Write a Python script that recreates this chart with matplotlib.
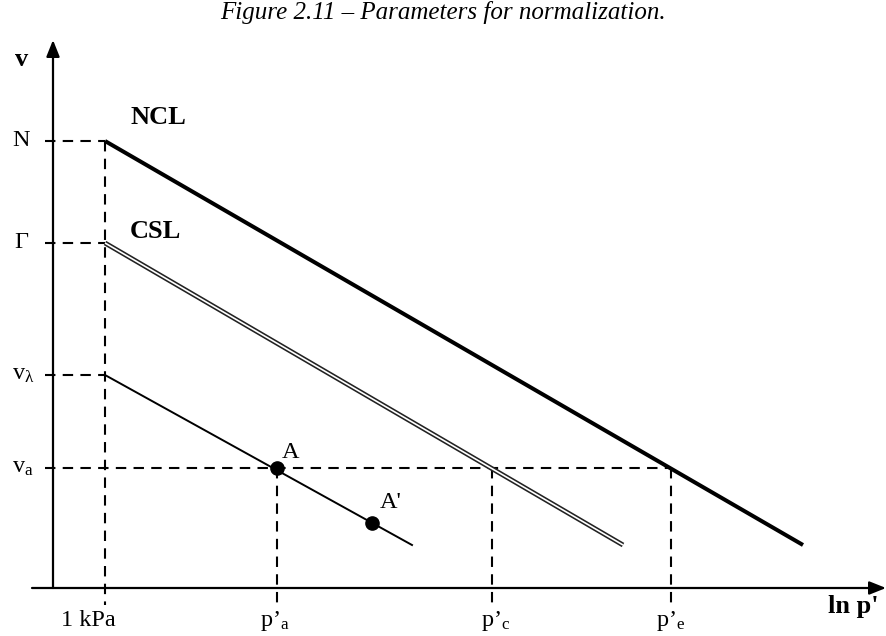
import matplotlib
matplotlib.use("Agg")
import matplotlib.pyplot as plt
from matplotlib.patches import FancyArrowPatch

# ---- schematic data (ln p' and v in arbitrary units) ----
lnp_ref = 0.0                      # 1 kPa
v_levels = {"N": 4.47, "Gamma": 3.45, "v_lambda": 2.13, "v_a": 1.20}
lnp_points = {"p_a": 1.72, "p_c": 3.87, "p_e": 5.66}
ncl_lnp = [0.0, 6.98]
ncl_v = [4.47, 0.43]
csl_lnp = [0.0, 5.18]
csl_v = [3.45, 0.43]
url_lnp = [0.0, 3.07]
url_v = [2.13, 0.43]
pt_A = (1.72, 1.20)
pt_Ap = (2.67, 0.65)
x_tick_labels = ["1 kPa", "p’$_{\\mathrm{a}}$", "p’$_{\\mathrm{c}}$", "p’$_{\\mathrm{e}}$"]

plt.rcParams['font.family'] = ['Liberation Serif', 'DejaVu Serif']
plt.rcParams['mathtext.fontset'] = 'custom'
plt.rcParams['mathtext.rm'] = 'Liberation Serif'
plt.rcParams['mathtext.it'] = 'Liberation Serif:italic'

fig = plt.figure(figsize=(8.86, 6.36), dpi=100)
ax = fig.add_axes([0, 0, 1, 1])
ax.set_xlim(-1.05, 7.81)
ax.set_ylim(-0.48, 5.88)
ax.axis('off')

x_axis_start = -0.73
y_axis_x = -0.52
# axes with arrows
ax.add_patch(FancyArrowPatch((x_axis_start, 0), (7.81, 0), arrowstyle='-|>,head_length=10,head_width=4',
                             mutation_scale=1, lw=1.6, color='black', shrinkA=0, shrinkB=0))
ax.add_patch(FancyArrowPatch((y_axis_x, 0), (y_axis_x, 5.48), arrowstyle='-|>,head_length=10,head_width=4',
                             mutation_scale=1, lw=1.6, color='black', shrinkA=0, shrinkB=0))

dash = dict(color='black', lw=1.5, dashes=(5, 3.5))
left_dash = -0.60
bottom_dash = -0.17
# horizontal dashed guides
for key in ["N", "Gamma", "v_lambda"]:
    ax.plot([left_dash, lnp_ref], [v_levels[key]] * 2, **dash)
ax.plot([left_dash, lnp_points["p_e"]], [v_levels["v_a"]] * 2, **dash)
# vertical dashed guides
ax.plot([lnp_ref, lnp_ref], [v_levels["N"], bottom_dash], **dash)
for key in ["p_a", "p_c", "p_e"]:
    ax.plot([lnp_points[key]] * 2, [v_levels["v_a"], bottom_dash], **dash)

# NCL (thick)
ax.plot(ncl_lnp, ncl_v, color='black', lw=2.9, solid_capstyle='butt', zorder=3)
# CSL (double line)
ax.plot(csl_lnp, csl_v, color='#222222', lw=3.5, solid_capstyle='butt', zorder=3)
ax.plot(csl_lnp, csl_v, color='white', lw=1.2, solid_capstyle='butt', zorder=4)
# unloading-reloading line
ax.plot(url_lnp, url_v, color='black', lw=1.4, zorder=3)
ax.plot(*pt_A, 'o', color='black', ms=9.5, zorder=5)
ax.plot(*pt_Ap, 'o', color='black', ms=9.5, zorder=5)

fs = 17.5
# y-level labels
ax.text(-0.84, v_levels["N"], "N", fontsize=fs, ha='center', va='center')
ax.text(-0.84, v_levels["Gamma"], "Γ", fontsize=fs, ha='center', va='center')
ax.text(-0.82, v_levels["v_lambda"], "v$_{\\mathrm{λ}}$", fontsize=fs, ha='center', va='center')
ax.text(-0.82, v_levels["v_a"], "v$_{\\mathrm{a}}$", fontsize=fs, ha='center', va='center')
# x labels
xl_pos = [lnp_ref - 0.17, lnp_points["p_a"] - 0.02, lnp_points["p_c"] + 0.04, lnp_points["p_e"] + 0.0]
for xp, lab in zip(xl_pos, x_tick_labels):
    ax.text(xp, -0.33, lab, fontsize=fs, ha='center', va='center')

ax.text(-0.83, 5.28, "v", fontsize=19, fontweight='bold', ha='center', va='center')
ax.text(7.48, -0.19, "ln p'", fontsize=19, fontweight='bold', ha='center', va='center')
ax.text(0.25, 4.70, "NCL", fontsize=19, fontweight='bold', ha='left', va='center')
ax.text(0.25, 3.56, "CSL", fontsize=19, fontweight='bold', ha='left', va='center')
ax.text(1.86, 1.36, "A", fontsize=fs, ha='center', va='center')
ax.text(2.86, 0.86, "A'", fontsize=fs, ha='center', va='center')

fig.text(0.5, 0.980, "Figure 2.11 – Parameters for normalization.", fontsize=18, style='italic',
         ha='center', va='center')

fig.savefig("out.png", dpi=100, facecolor='white')
